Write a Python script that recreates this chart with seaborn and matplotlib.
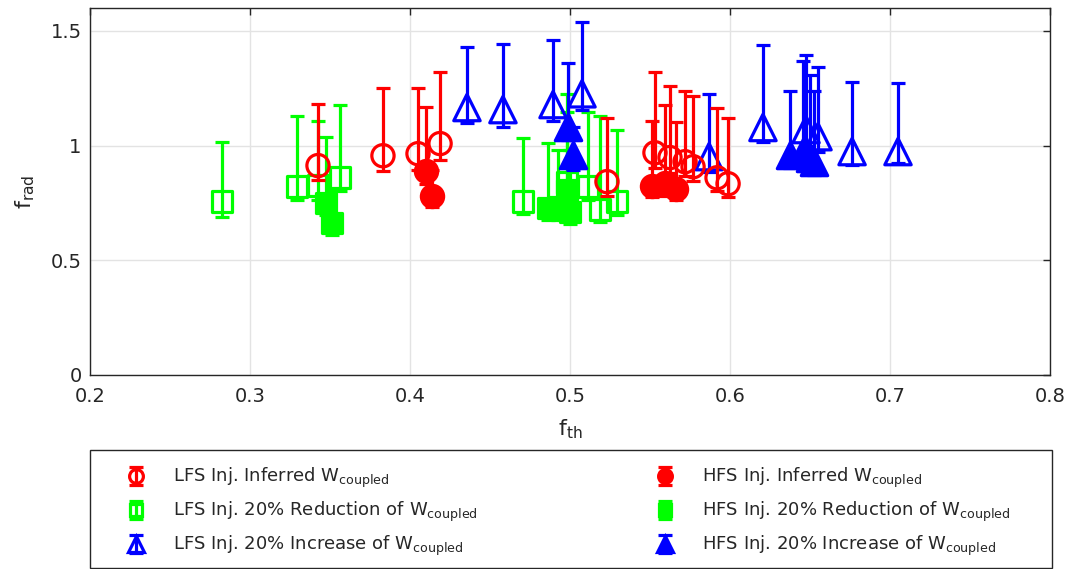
import numpy as np
import pandas as pd
import matplotlib
matplotlib.use("Agg")
import matplotlib.pyplot as plt
from matplotlib.patches import Rectangle
import seaborn as sns

# ---------------- data ----------------
# LFS injection, inferred W_coupled (red open circles)
lfs_inf_x = [0.3425, 0.3831, 0.405, 0.4188, 0.5231, 0.5531, 0.5625, 0.5719, 0.5769, 0.5919, 0.5988]
lfs_inf_y = [0.913, 0.956, 0.965, 1.009, 0.843, 0.969, 0.948, 0.930, 0.908, 0.860, 0.834]
lfs_inf_lo = [0.852, 0.891, 0.895, 0.939, 0.782, 0.904, 0.882, 0.869, 0.847, 0.803, 0.777]
lfs_inf_hi = [1.183, 1.253, 1.253, 1.323, 1.122, 1.319, 1.258, 1.240, 1.218, 1.162, 1.122]

# LFS injection, 20% reduction (green open squares)
lfs_red_x = [0.2825, 0.3294, 0.3425, 0.3563, 0.4706, 0.4981, 0.5113, 0.5188, 0.5294]
lfs_red_y = [0.755, 0.821, 0.825, 0.860, 0.755, 0.838, 0.821, 0.721, 0.755]
lfs_red_lo = [0.690, 0.764, 0.764, 0.803, 0.703, 0.782, 0.764, 0.668, 0.699]
lfs_red_hi = [1.017, 1.127, 1.109, 1.175, 1.035, 1.148, 1.148, 1.127, 1.070]

# LFS injection, 20% increase (blue open triangles)
lfs_inc_x = [0.4356, 0.4581, 0.4894, 0.5075, 0.5869, 0.6206, 0.6475, 0.655, 0.6763, 0.705]
lfs_inc_y = [1.166, 1.157, 1.179, 1.226, 0.952, 1.079, 1.070, 1.039, 0.974, 0.974]
lfs_inc_lo = [1.100, 1.083, 1.109, 1.157, 0.886, 1.017, 1.000, 0.974, 0.917, 0.926]
lfs_inc_hi = [1.428, 1.445, 1.459, 1.537, 1.223, 1.437, 1.393, 1.341, 1.279, 1.275]

# HFS injection, inferred W_coupled (red filled circles)
hfs_inf_x = [0.41, 0.4138, 0.5513, 0.5594, 0.5663]
hfs_inf_y = [0.891, 0.782, 0.825, 0.838, 0.812]
hfs_inf_lo = [0.834, 0.734, 0.777, 0.782, 0.764]
hfs_inf_hi = [1.170, 0.895, 1.109, 1.179, 1.105]

# HFS injection, 20% reduction (green filled squares)
hfs_red_x = [0.3475, 0.3513, 0.4863, 0.4925, 0.4981, 0.5]
hfs_red_y = [0.751, 0.664, 0.729, 0.734, 0.808, 0.712]
hfs_red_lo = [0.699, 0.611, 0.677, 0.677, 0.751, 0.659]
hfs_red_hi = [1.039, 0.808, 1.013, 0.983, 1.227, 0.983]

# HFS injection, 20% increase (blue filled triangles)
hfs_inc_x = [0.4988, 0.5019, 0.6375, 0.6456, 0.65, 0.6525]
hfs_inc_y = [1.083, 0.961, 0.961, 0.974, 0.948, 0.930]
hfs_inc_lo = [1.026, 0.895, 0.904, 0.904, 0.886, 0.873]
hfs_inc_hi = [1.362, 1.083, 1.236, 1.367, 1.310, 1.236]

labels = [
    r"LFS Inj. Inferred W$_{\mathrm{coupled}}$",
    r"LFS Inj. 20% Reduction of W$_{\mathrm{coupled}}$",
    r"LFS Inj. 20% Increase of W$_{\mathrm{coupled}}$",
    r"HFS Inj. Inferred W$_{\mathrm{coupled}}$",
    r"HFS Inj. 20% Reduction of W$_{\mathrm{coupled}}$",
    r"HFS Inj. 20% Increase of W$_{\mathrm{coupled}}$",
]
x_ticks = [0.2, 0.3, 0.4, 0.5, 0.6, 0.7, 0.8]
x_tick_labels = ["0.2", "0.3", "0.4", "0.5", "0.6", "0.7", "0.8"]
y_ticks = [0, 0.5, 1, 1.5]
y_tick_labels = ["0", "0.5", "1", "1.5"]

# ---------------- style ----------------
sns.set_theme(style="whitegrid")
plt.rcParams["font.family"] = ["DejaVu Sans"]
plt.rcParams["mathtext.default"] = "regular"

RED, GREEN, BLUE = "#ff0000", "#00ff00", "#0000ff"
series = [
    (lfs_inf_x, lfs_inf_y, lfs_inf_lo, lfs_inf_hi, RED, "o", False, 16, 6),
    (lfs_red_x, lfs_red_y, lfs_red_lo, lfs_red_hi, GREEN, "s", False, 15, 2),
    (lfs_inc_x, lfs_inc_y, lfs_inc_lo, lfs_inc_hi, BLUE, "^", False, 19, 4),
    (hfs_inf_x, hfs_inf_y, hfs_inf_lo, hfs_inf_hi, RED, "o", True, 16, 7),
    (hfs_red_x, hfs_red_y, hfs_red_lo, hfs_red_hi, GREEN, "s", True, 15, 3),
    (hfs_inc_x, hfs_inc_y, hfs_inc_lo, hfs_inc_hi, BLUE, "^", True, 19, 5),
]

W, H = 1070, 569
fig = plt.figure(figsize=(W / 100, H / 100), dpi=100)
ax = fig.add_axes([90 / W, 1 - 375 / H, 960 / W, 367 / H])
ax.set_facecolor("white")

handles = []
for (xs, ys, lo, hi, col, mk, filled, ms, z), lab in zip(series, labels):
    df = pd.DataFrame({"x": xs, "y": ys, "lo": lo, "hi": hi})
    yerr = np.vstack([df["y"] - df["lo"], df["hi"] - df["y"]])
    ax.errorbar(df["x"], df["y"], yerr=yerr, fmt="none", ecolor=col,
                elinewidth=2.3, capsize=5, capthick=2.3, zorder=z)
    sns.scatterplot(data=df, x="x", y="y", ax=ax, marker=mk, s=ms ** 2,
                    facecolor=col if filled else "none", edgecolor=col,
                    linewidth=2.3, legend=False, zorder=z + 0.5)
    # legend proxy
    h = ax.errorbar([np.nan], [np.nan], yerr=[[np.nan], [np.nan]], fmt=mk,
                    color=col, mfc=col if filled else "none", mec=col,
                    ms=ms * 0.62, mew=2.3, elinewidth=2.3, capsize=5,
                    capthick=2.3, label=lab)
    handles.append(h)

ax.set_xlim(0.2, 0.8)
ax.set_ylim(0, 1.6)
ax.set_xticks(x_ticks)
ax.set_xticklabels(x_tick_labels)
ax.set_yticks(y_ticks)
ax.set_yticklabels(y_tick_labels)
ax.tick_params(axis="both", which="both", direction="in", length=5, width=1,
               colors="#262626", labelsize=14, top=True, right=True,
               labeltop=False, labelright=False)
ax.tick_params(axis="x", pad=9)
ax.tick_params(axis="y", pad=6)
ax.grid(True, color="#e3e3e3", linewidth=1)
for s in ax.spines.values():
    s.set_color("#262626")
    s.set_linewidth(1)
    s.set_visible(True)
ax.set_xlabel(r"f$_{th}$", fontsize=16, color="#262626", labelpad=8)
ax.set_ylabel(r"f$_{rad}$", fontsize=16, color="#262626", labelpad=10)

# legend box (frame drawn separately, two columns placed individually)
fig.patches.append(Rectangle((90 / W, 1 - 568 / H), 962 / W, 118 / H,
                             transform=fig.transFigure, fill=True,
                             facecolor="white", edgecolor="#262626",
                             linewidth=1, zorder=0))
common = dict(loc="upper left", fontsize=13, frameon=False, borderpad=0,
              borderaxespad=0, labelspacing=0.55, handlelength=2.0,
              handletextpad=1.05)
leg1 = fig.legend(handles=handles[:3], labels=labels[:3],
                  bbox_to_anchor=(118 / W, 1 - 466 / H), **common)
leg2 = fig.legend(handles=handles[3:], labels=labels[3:],
                  bbox_to_anchor=(647 / W, 1 - 466 / H), **common)

fig.savefig("out.png", dpi=100)
